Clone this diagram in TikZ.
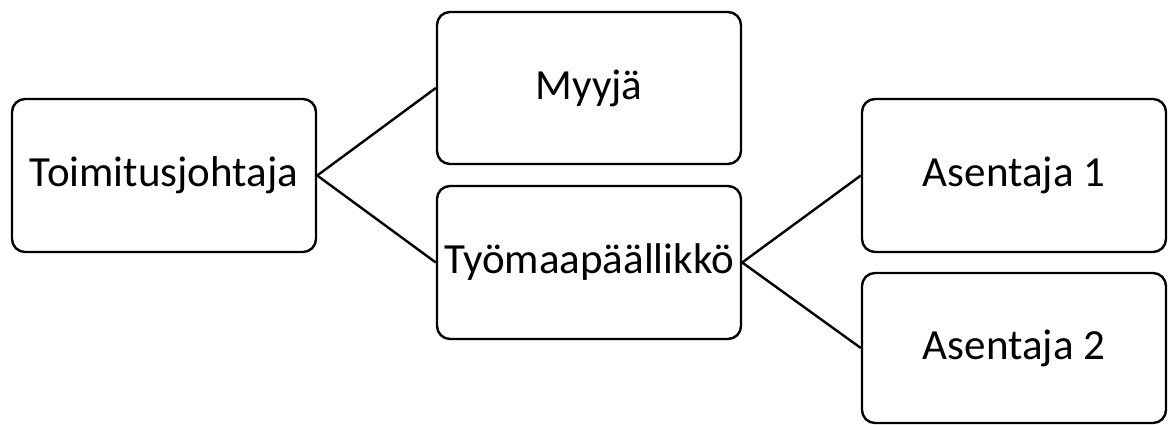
\documentclass[tikz,border=0pt]{standalone}
\usepackage{fontspec}
\setmainfont{Carlito}
\begin{document}
\begin{tikzpicture}[x=1pt,y=-1pt,
  box/.style={draw=black,line width=2.4pt,rounded corners=13pt,fill=white,
    minimum width=304pt,minimum height=153pt,inner sep=0pt,
    font=\fontsize{43}{50}\selectfont},
  link/.style={draw=black,line width=2.4pt}]
\useasboundingbox (0,0) rectangle (1168,424);
\node[box] (tj) at (164,175.5) {Toimitusjohtaja};
\node[box,minimum height=152pt] (my) at (589,88) {Myyjä};
\node[box] (tp) at (589,262.5) {Työmaapäällikkö};
\node[box] (a1) at (1014,175.5) {Asentaja 1};
\node[box,minimum height=150pt] (a2) at (1014,348) {Asentaja 2};
\draw[link] (tj.east) -- (my.west);
\draw[link] (tj.east) -- (tp.west);
\draw[link] (tp.east) -- (a1.west);
\draw[link] (tp.east) -- (a2.west);
\end{tikzpicture}
\end{document}
